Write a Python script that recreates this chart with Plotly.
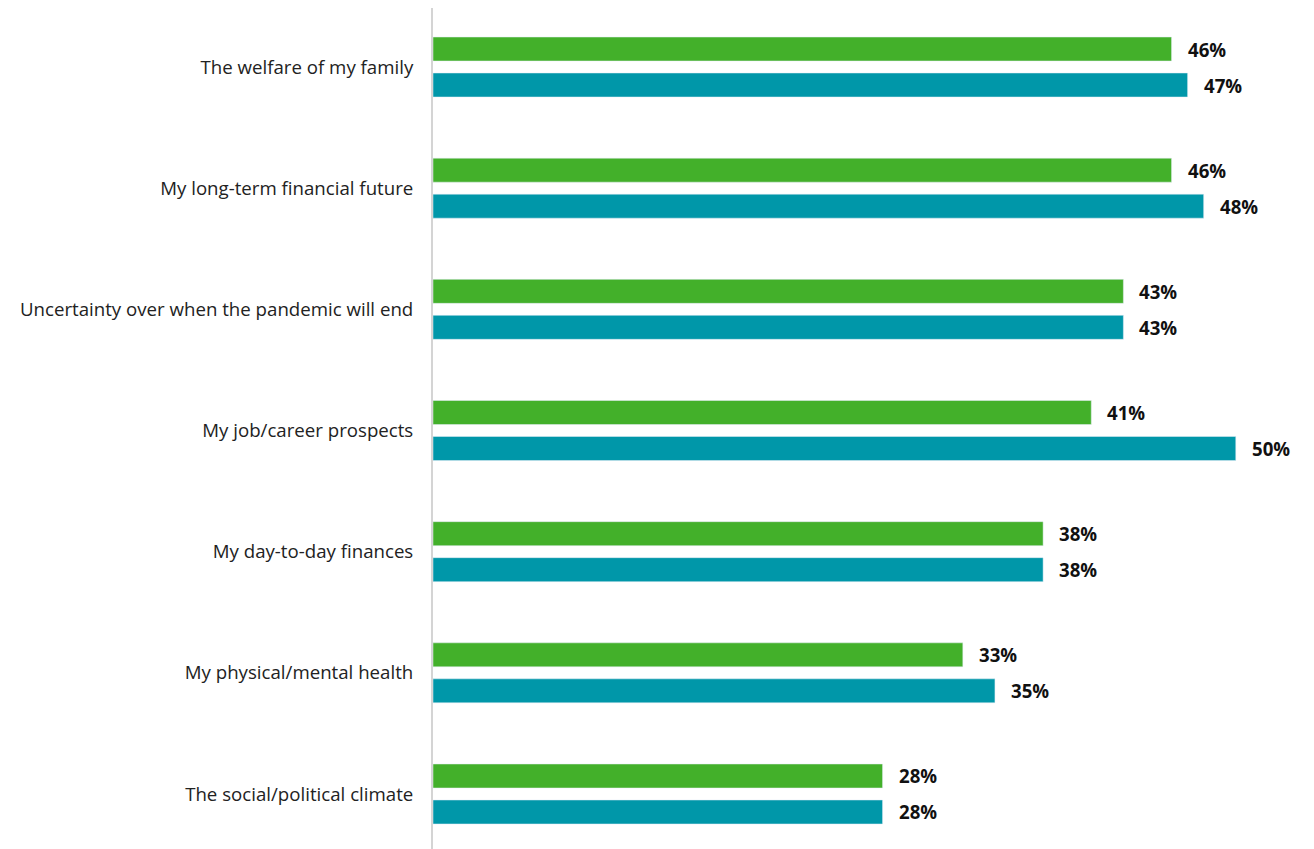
import plotly.graph_objects as go

categories = [
    "The welfare of my family",
    "My long-term financial future",
    "Uncertainty over when the pandemic will end",
    "My job/career prospects",
    "My day-to-day finances",
    "My physical/mental health",
    "The social/political climate",
]
series_green = [46, 46, 43, 41, 38, 33, 28]
series_teal = [47, 48, 43, 50, 38, 35, 28]

GREEN = "#43B02A"
TEAL = "#0097A9"

fig = go.Figure()
fig.add_trace(go.Bar(y=categories, x=series_green, orientation="h",
                     marker=dict(color=GREEN), showlegend=False, hoverinfo="x+y"))
fig.add_trace(go.Bar(y=categories, x=series_teal, orientation="h",
                     marker=dict(color=TEAL), showlegend=False, hoverinfo="x+y"))

annotations = []
for cat, g, t in zip(categories, series_green, series_teal):
    for val, ys in ((g, 18), (t, -18)):
        annotations.append(dict(
            x=val, y=cat, xref="x", yref="y", text=f"<b>{val}%</b>",
            showarrow=False, xanchor="left", yanchor="middle",
            xshift=14, yshift=ys,
            font=dict(family="Open Sans", size=18.67, color="#111111"),
        ))

fig.update_layout(
    width=1314, height=849,
    margin=dict(l=425, r=22, t=0, b=0),
    paper_bgcolor="white", plot_bgcolor="white",
    barmode="group", bargap=0.406, bargroupgap=1/3,
    annotations=annotations,
    xaxis=dict(range=[0, 54], visible=False, showgrid=False, zeroline=False),
    yaxis=dict(
        type="category", categoryorder="array", categoryarray=categories,
        range=[6.52, -0.487], showgrid=False, zeroline=False,
        showline=True, linecolor="#d4d4d4", linewidth=2,
        ticks="", ticklabelstandoff=14,
        tickfont=dict(family="Open Sans", size=18.67, color="#222222"),
    ),
    font=dict(family="Open Sans"),
)

fig.write_html("out.html")
